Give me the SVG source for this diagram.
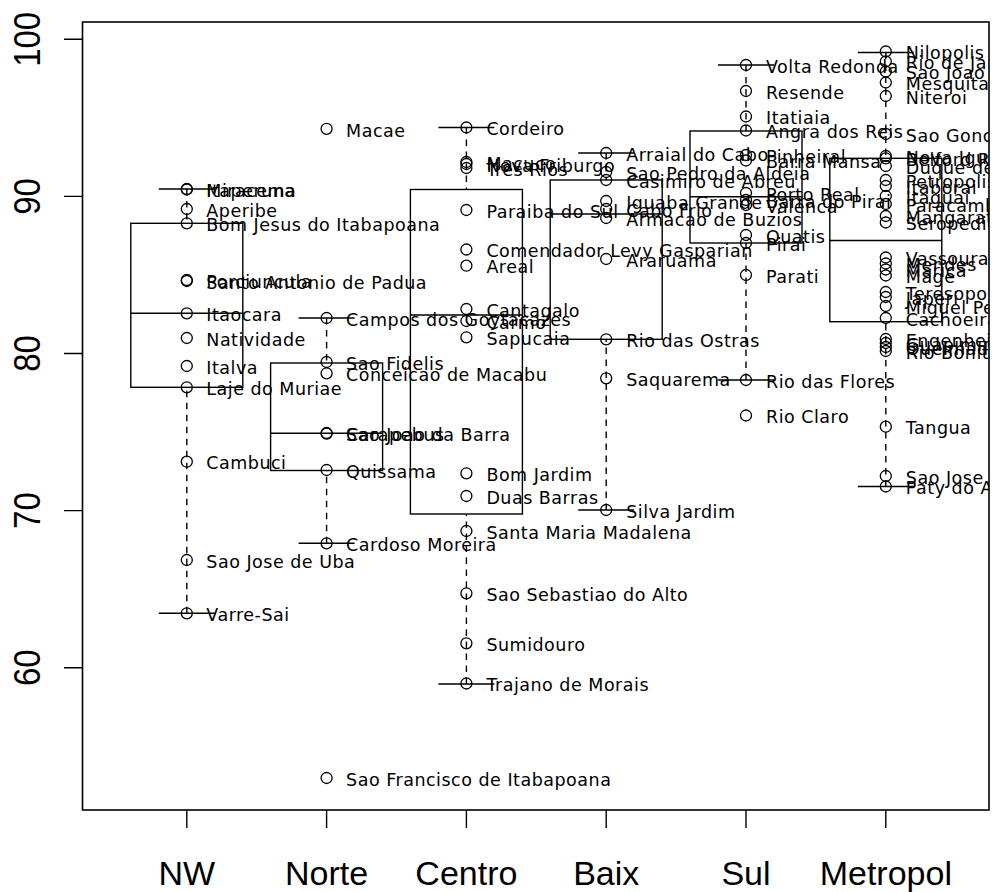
<svg xmlns="http://www.w3.org/2000/svg" width="993" height="892" viewBox="0 0 993 892">
<style>
.ln{stroke:#000;stroke-width:1.4;fill:none}
.wh{stroke:#000;stroke-width:1.4;fill:none;stroke-dasharray:6.5 5.5}
.pt{stroke:#000;stroke-width:1.3;fill:none}
.lb{font-family:"DejaVu Sans",Verdana,sans-serif;font-size:17.5px;letter-spacing:0.5px;fill:#000}
.ax{font-family:"Liberation Sans",Arial,sans-serif;font-size:34px;fill:#000}
.ay{font-family:"Liberation Sans",Arial,sans-serif;font-size:33px;fill:#000}
</style>
<defs>
<clipPath id="plotclip"><rect x="83" y="22" width="906" height="788"/></clipPath>
</defs>
<rect width="993" height="892" fill="#fff"/>

<g id="axes">
<rect class="ln" x="82.5" y="22" width="906.5" height="788" style="stroke-width:1.6"/>
<path class="ln" d="M64 39.3H82.5M64 196.4H82.5M64 353.5H82.5M64 510.6H82.5M64 667.7H82.5"/>
<path class="ln" d="M186.8 810V828M326.6 810V828M466.4 810V828M606.2 810V828M746 810V828M885.8 810V828"/>
<text class="ay" text-anchor="middle" transform="translate(40,39.3) rotate(-90) scale(1,1.12)">100</text>
<text class="ay" text-anchor="middle" transform="translate(40,196.4) rotate(-90) scale(1,1.12)">90</text>
<text class="ay" text-anchor="middle" transform="translate(40,353.5) rotate(-90) scale(1,1.12)">80</text>
<text class="ay" text-anchor="middle" transform="translate(40,510.6) rotate(-90) scale(1,1.12)">70</text>
<text class="ay" text-anchor="middle" transform="translate(40,667.7) rotate(-90) scale(1,1.12)">60</text>
<text class="ax" text-anchor="middle" x="186.8" y="885">NW</text>
<text class="ax" text-anchor="middle" x="326.6" y="885">Norte</text>
<text class="ax" text-anchor="middle" x="466.4" y="885">Centro</text>
<text class="ax" text-anchor="middle" x="606.2" y="885">Baix</text>
<text class="ax" text-anchor="middle" x="746" y="885">Sul</text>
<text class="ax" text-anchor="middle" x="885.8" y="885">Metropol</text>
</g>

<g id="connectors">
<path class="wh" d="M186.8 189V223.3M186.8 613.3V387.3"/>
<path class="wh" d="M326.6 318V363M326.6 543.3V470.5"/>
<path class="wh" d="M466.4 127.5V189.5M466.4 684V514"/>
<path class="wh" d="M606.2 153V180M606.2 510V339.3"/>
<path class="wh" d="M746 65V131M746 380V243"/>
<path class="wh" d="M885.8 52.5V158.3M885.8 486.5V321.7"/>
</g>

<g id="box-NW">
<rect class="ln" x="130.8" y="223.3" width="112" height="164"/>
<path class="ln" d="M130.8 313.3H242.8M158.8 189H214.8M158.8 613.3H214.8"/>
</g>
<g id="box-Norte">
<rect class="ln" x="270.6" y="363" width="112" height="107.5"/>
<path class="ln" d="M270.6 433.3H382.6M298.6 318H354.6M298.6 543.3H354.6"/>
</g>
<g id="box-Centro">
<rect class="ln" x="410.4" y="189.5" width="112" height="324.5"/>
<path class="ln" d="M410.4 315H522.4M438.4 127.5H494.4M438.4 684H494.4"/>
</g>
<g id="box-Baix">
<rect class="ln" x="550.2" y="180" width="112" height="159.3"/>
<path class="ln" d="M550.2 214H662.2M578.2 153H634.2M578.2 510H634.2"/>
</g>
<g id="box-Sul">
<rect class="ln" x="690" y="131" width="112" height="112"/>
<path class="ln" d="M690 196.7H802M718 65H774M718 380H774"/>
</g>
<g id="box-Metropol">
<rect class="ln" x="829.8" y="158.3" width="112" height="163.4"/>
<path class="ln" d="M829.8 240.5H941.8M857.8 52.5H913.8M857.8 486.5H913.8"/>
</g>

<g id="points-NW">
<circle class="pt" cx="186.8" cy="189" r="5.5"/><circle class="pt" cx="186.8" cy="189.5" r="5.5"/>
<circle class="pt" cx="186.8" cy="209" r="5.5"/><circle class="pt" cx="186.8" cy="223.3" r="5.5"/>
<circle class="pt" cx="186.8" cy="280" r="5.5"/><circle class="pt" cx="186.8" cy="281" r="5.5"/>
<circle class="pt" cx="186.8" cy="313.3" r="5.5"/><circle class="pt" cx="186.8" cy="338" r="5.5"/>
<circle class="pt" cx="186.8" cy="366" r="5.5"/><circle class="pt" cx="186.8" cy="387.3" r="5.5"/>
<circle class="pt" cx="186.8" cy="461.7" r="5.5"/><circle class="pt" cx="186.8" cy="560" r="5.5"/>
<circle class="pt" cx="186.8" cy="613.3" r="5.5"/>
</g>
<g id="points-Norte">
<circle class="pt" cx="326.6" cy="128.8" r="5.5"/><circle class="pt" cx="326.6" cy="318" r="5.5"/>
<circle class="pt" cx="326.6" cy="362" r="5.5"/><circle class="pt" cx="326.6" cy="373.3" r="5.5"/>
<circle class="pt" cx="326.6" cy="433" r="5.5"/><circle class="pt" cx="326.6" cy="433.6" r="5.5"/>
<circle class="pt" cx="326.6" cy="470" r="5.5"/><circle class="pt" cx="326.6" cy="543.3" r="5.5"/>
<circle class="pt" cx="326.6" cy="778" r="5.5"/>
</g>
<g id="points-Centro">
<circle class="pt" cx="466.4" cy="127.5" r="5.5"/><circle class="pt" cx="466.4" cy="162" r="5.5"/>
<circle class="pt" cx="466.4" cy="164" r="5.5"/><circle class="pt" cx="466.4" cy="168" r="5.5"/>
<circle class="pt" cx="466.4" cy="210" r="5.5"/><circle class="pt" cx="466.4" cy="249.5" r="5.5"/>
<circle class="pt" cx="466.4" cy="265.7" r="5.5"/><circle class="pt" cx="466.4" cy="309" r="5.5"/>
<circle class="pt" cx="466.4" cy="321" r="5.5"/><circle class="pt" cx="466.4" cy="337.3" r="5.5"/>
<circle class="pt" cx="466.4" cy="473.3" r="5.5"/><circle class="pt" cx="466.4" cy="496" r="5.5"/>
<circle class="pt" cx="466.4" cy="531" r="5.5"/><circle class="pt" cx="466.4" cy="593.3" r="5.5"/>
<circle class="pt" cx="466.4" cy="643.3" r="5.5"/><circle class="pt" cx="466.4" cy="683.5" r="5.5"/>
</g>
<g id="points-Baix">
<circle class="pt" cx="606.2" cy="153" r="5.5"/><circle class="pt" cx="606.2" cy="172" r="5.5"/>
<circle class="pt" cx="606.2" cy="180" r="5.5"/><circle class="pt" cx="606.2" cy="201" r="5.5"/>
<circle class="pt" cx="606.2" cy="209" r="5.5"/><circle class="pt" cx="606.2" cy="218" r="5.5"/>
<circle class="pt" cx="606.2" cy="259" r="5.5"/><circle class="pt" cx="606.2" cy="339.3" r="5.5"/>
<circle class="pt" cx="606.2" cy="378.3" r="5.5"/><circle class="pt" cx="606.2" cy="510" r="5.5"/>
</g>
<g id="points-Sul">
<circle class="pt" cx="746" cy="65" r="5.5"/><circle class="pt" cx="746" cy="91" r="5.5"/>
<circle class="pt" cx="746" cy="116.5" r="5.5"/><circle class="pt" cx="746" cy="130.5" r="5.5"/>
<circle class="pt" cx="746" cy="155" r="5.5"/><circle class="pt" cx="746" cy="160.5" r="5.5"/>
<circle class="pt" cx="746" cy="193" r="5.5"/><circle class="pt" cx="746" cy="200" r="5.5"/>
<circle class="pt" cx="746" cy="205" r="5.5"/><circle class="pt" cx="746" cy="235" r="5.5"/>
<circle class="pt" cx="746" cy="243" r="5.5"/><circle class="pt" cx="746" cy="275" r="5.5"/>
<circle class="pt" cx="746" cy="380" r="5.5"/><circle class="pt" cx="746" cy="415.5" r="5.5"/>
</g>
<g id="points-Metropol">
<circle class="pt" cx="885.8" cy="51.5" r="5.5"/><circle class="pt" cx="885.8" cy="61.5" r="5.5"/>
<circle class="pt" cx="885.8" cy="71.5" r="5.5"/><circle class="pt" cx="885.8" cy="82.5" r="5.5"/>
<circle class="pt" cx="885.8" cy="96" r="5.5"/><circle class="pt" cx="885.8" cy="134" r="5.5"/>
<circle class="pt" cx="885.8" cy="156" r="5.5"/><circle class="pt" cx="885.8" cy="158.3" r="5.5"/>
<circle class="pt" cx="885.8" cy="166" r="5.5"/><circle class="pt" cx="885.8" cy="180" r="5.5"/>
<circle class="pt" cx="885.8" cy="186" r="5.5"/><circle class="pt" cx="885.8" cy="196" r="5.5"/>
<circle class="pt" cx="885.8" cy="204" r="5.5"/><circle class="pt" cx="885.8" cy="216" r="5.5"/>
<circle class="pt" cx="885.8" cy="222.5" r="5.5"/><circle class="pt" cx="885.8" cy="257.5" r="5.5"/>
<circle class="pt" cx="885.8" cy="263.5" r="5.5"/><circle class="pt" cx="885.8" cy="269.5" r="5.5"/>
<circle class="pt" cx="885.8" cy="275.5" r="5.5"/><circle class="pt" cx="885.8" cy="292" r="5.5"/>
<circle class="pt" cx="885.8" cy="297" r="5.5"/><circle class="pt" cx="885.8" cy="306" r="5.5"/>
<circle class="pt" cx="885.8" cy="318" r="5.5"/><circle class="pt" cx="885.8" cy="339" r="5.5"/>
<circle class="pt" cx="885.8" cy="343" r="5.5"/><circle class="pt" cx="885.8" cy="347" r="5.5"/>
<circle class="pt" cx="885.8" cy="351" r="5.5"/><circle class="pt" cx="885.8" cy="426.7" r="5.5"/>
<circle class="pt" cx="885.8" cy="476" r="5.5"/><circle class="pt" cx="885.8" cy="486.5" r="5.5"/>
</g>

<g id="labels" clip-path="url(#plotclip)">
<g id="labels-NW">
<text class="lb" x="206.3" y="196.5">Itaperuna</text><text class="lb" x="206.3" y="197">Miracema</text>
<text class="lb" x="206.3" y="216.5">Aperibe</text><text class="lb" x="206.3" y="230.8">Bom Jesus do Itabapoana</text>
<text class="lb" x="206.3" y="287.5">Porciuncula</text><text class="lb" x="206.3" y="288.5">Santo Antonio de Padua</text>
<text class="lb" x="206.3" y="320.8">Itaocara</text><text class="lb" x="206.3" y="345.5">Natividade</text>
<text class="lb" x="206.3" y="373.5">Italva</text><text class="lb" x="206.3" y="394.8">Laje do Muriae</text>
<text class="lb" x="206.3" y="469.2">Cambuci</text><text class="lb" x="206.3" y="567.5">Sao Jose de Uba</text>
<text class="lb" x="206.3" y="620.8">Varre-Sai</text>
</g>
<g id="labels-Norte">
<text class="lb" x="346.1" y="137.3">Macae</text><text class="lb" x="346.1" y="325.5">Campos dos Goytacazes</text>
<text class="lb" x="346.1" y="369.5">Sao Fidelis</text><text class="lb" x="346.1" y="380.8">Conceicao de Macabu</text>
<text class="lb" x="346.1" y="440.5">Carapebus</text><text class="lb" x="346.1" y="441.1">Sao Joao da Barra</text>
<text class="lb" x="346.1" y="477.5">Quissama</text><text class="lb" x="346.1" y="550.8">Cardoso Moreira</text>
<text class="lb" x="346.1" y="785.5">Sao Francisco de Itabapoana</text>
</g>
<g id="labels-Centro">
<text class="lb" x="486.4" y="135">Cordeiro</text><text class="lb" x="486.4" y="169.5">Macuco</text>
<text class="lb" x="486.4" y="171.5">Nova Friburgo</text><text class="lb" x="486.4" y="175.5">Tres Rios</text>
<text class="lb" x="486.4" y="217.5">Paraiba do Sul</text><text class="lb" x="486.4" y="257">Comendador Levy Gasparian</text>
<text class="lb" x="486.4" y="273.2">Areal</text><text class="lb" x="486.4" y="316.5">Cantagalo</text>
<text class="lb" x="486.4" y="328.5">Carmo</text><text class="lb" x="486.4" y="344.8">Sapucaia</text>
<text class="lb" x="486.4" y="480.8">Bom Jardim</text><text class="lb" x="486.4" y="503.5">Duas Barras</text>
<text class="lb" x="486.4" y="538.5">Santa Maria Madalena</text><text class="lb" x="486.4" y="600.8">Sao Sebastiao do Alto</text>
<text class="lb" x="486.4" y="650.8">Sumidouro</text><text class="lb" x="486.4" y="691">Trajano de Morais</text>
</g>
<g id="labels-Baix">
<text class="lb" x="626.2" y="160.5">Arraial do Cabo</text><text class="lb" x="626.2" y="179.5">Sao Pedro da Aldeia</text>
<text class="lb" x="626.2" y="187.5">Casimiro de Abreu</text><text class="lb" x="626.2" y="208.5">Iguaba Grande</text>
<text class="lb" x="626.2" y="216.5">Cabo Frio</text><text class="lb" x="626.2" y="225.5">Armacao de Buzios</text>
<text class="lb" x="626.2" y="266.5">Araruama</text><text class="lb" x="626.2" y="346.8">Rio das Ostras</text>
<text class="lb" x="626.2" y="385.8">Saquarema</text><text class="lb" x="626.2" y="517.5">Silva Jardim</text>
</g>
<g id="labels-Sul">
<text class="lb" x="766" y="72.5">Volta Redonda</text><text class="lb" x="766" y="98.5">Resende</text>
<text class="lb" x="766" y="124">Itatiaia</text><text class="lb" x="766" y="138">Angra dos Reis</text>
<text class="lb" x="766" y="162.5">Pinheiral</text><text class="lb" x="766" y="168">Barra Mansa</text>
<text class="lb" x="766" y="200.5">Porto Real</text><text class="lb" x="766" y="207.5">Barra do Pirai</text>
<text class="lb" x="766" y="212.5">Valenca</text><text class="lb" x="766" y="242.5">Quatis</text>
<text class="lb" x="766" y="250.5">Pirai</text><text class="lb" x="766" y="282.5">Parati</text>
<text class="lb" x="766" y="387.5">Rio das Flores</text><text class="lb" x="766" y="423">Rio Claro</text>
</g>
<g id="labels-Metropol">
<text class="lb" x="905.8" y="59">Nilopolis</text><text class="lb" x="905.8" y="69">Rio de Janeiro</text>
<text class="lb" x="905.8" y="79">Sao Joao de Meriti</text><text class="lb" x="905.8" y="90">Mesquita</text>
<text class="lb" x="905.8" y="103.5">Niteroi</text><text class="lb" x="905.8" y="141.5">Sao Goncalo</text>
<text class="lb" x="905.8" y="163.5">Nova Iguacu</text><text class="lb" x="905.8" y="165.8">Belford Roxo</text>
<text class="lb" x="905.8" y="173.5">Duque de Caxias</text><text class="lb" x="905.8" y="187.5">Petropolis</text>
<text class="lb" x="905.8" y="193.5">Itaborai</text><text class="lb" x="905.8" y="203.5">Itaguai</text>
<text class="lb" x="905.8" y="211.5">Paracambi</text><text class="lb" x="905.8" y="223.5">Mangaratiba</text>
<text class="lb" x="905.8" y="230">Seropedica</text><text class="lb" x="905.8" y="265">Vassouras</text>
<text class="lb" x="905.8" y="271">Mendes</text><text class="lb" x="905.8" y="277">Marica</text>
<text class="lb" x="905.8" y="283">Mage</text><text class="lb" x="905.8" y="299.5">Teresopolis</text>
<text class="lb" x="905.8" y="304.5">Japeri</text><text class="lb" x="905.8" y="313.5">Miguel Pereira</text>
<text class="lb" x="905.8" y="325.5">Cachoeiras de Macacu</text><text class="lb" x="905.8" y="346.5">Engenheiro Paulo de Frontin</text>
<text class="lb" x="905.8" y="350.5">Guapimirim</text><text class="lb" x="905.8" y="354.5">Queimados</text>
<text class="lb" x="905.8" y="358.5">Rio Bonito</text><text class="lb" x="905.8" y="434.2">Tangua</text>
<text class="lb" x="905.8" y="483.5">Sao Jose do Vale do Rio Preto</text><text class="lb" x="905.8" y="494">Paty do Alferes</text>
</g>
</g>
</svg>
